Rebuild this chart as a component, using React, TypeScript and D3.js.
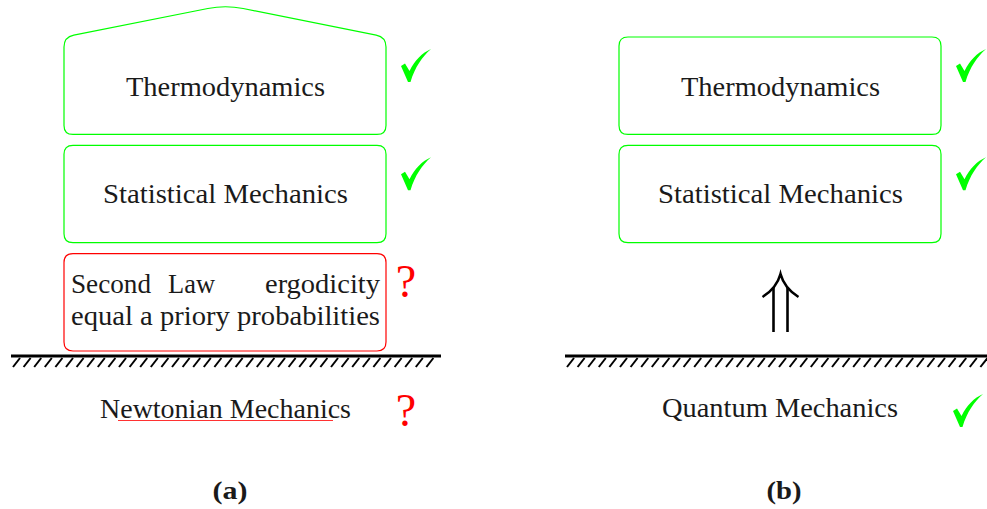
import React from "react";
import * as d3 from "d3";

// layers of the theory, top to bottom, for both panels
const panelCaptions = ["(a)", "(b)"];
const upperLayers = ["Thermodynamics", "Statistical Mechanics"];
const upperStatus = [
  ["ok", "ok"],
  ["ok", "ok"]
];
const assumptionLine1 = ["Second", "Law", "ergodicity"];
const assumptionLine2 = "equal a priory probabilities";
const assumptionStatus = "unknown";
const foundations = ["Newtonian Mechanics", "Quantum Mechanics"];
const foundationStatus = ["unknown", "ok"];

const W = 987;
const H = 509;
const GREEN = "#00ff00";
const RED = "#ff0000";
const FONT = "Liberation Serif";

const panelX = d3.scaleOrdinal<string, number>().domain(panelCaptions).range([64, 619]);
const boxW = 322;
const layerY = d3.scaleBand<number>().domain([0, 1, 2]).range([37, 351]).paddingInner(0.1);

function roundedPoly(pts: [number, number][], radii: number[]) {
  const p = d3.path();
  const n = pts.length;
  for (let i = 0; i < n; i++) {
    const r = radii[i];
    const prev = pts[(i - 1 + n) % n];
    const cur = pts[i];
    const next = pts[(i + 1) % n];
    const d1 = Math.hypot(cur[0] - prev[0], cur[1] - prev[1]);
    const d2 = Math.hypot(next[0] - cur[0], next[1] - cur[1]);
    const a = [cur[0] + ((prev[0] - cur[0]) * r) / d1, cur[1] + ((prev[1] - cur[1]) * r) / d1];
    const b = [cur[0] + ((next[0] - cur[0]) * r) / d2, cur[1] + ((next[1] - cur[1]) * r) / d2];
    if (i === 0) p.moveTo(a[0], a[1]);
    else p.lineTo(a[0], a[1]);
    p.quadraticCurveTo(cur[0], cur[1], b[0], b[1]);
  }
  p.closePath();
  return p.toString();
}

const checkPath = "M0,17 L4,14.5 L8.5,22 C14,11 21,4 30,0 C21,8 14,18 9.5,33 L7,33 Z";

function Check({ x, y }: { x: number; y: number }) {
  return <path d={checkPath} transform={`translate(${x},${y})`} fill={GREEN} />;
}

function Question({ x, y }: { x: number; y: number }) {
  return (
    <text x={x} y={y} style={{ fontFamily: FONT }} fontSize={46} fill={RED} textAnchor="middle">
      ?
    </text>
  );
}

function Ground({ x0, x1 }: { x0: number; x1: number }) {
  const y = 356;
  const hatches = d3.range(x0 + 2, x1 - 6, 10.6);
  const line = d3.line();
  return (
    <g>
      <line x1={x0} x2={x1} y1={y} y2={y} stroke="#000" strokeWidth={3} />
      {hatches.map((hx, i) => (
        <path
          key={i}
          d={line([[hx, y + 11], [hx + 7, y + 2]]) || ""}
          stroke="#000"
          strokeWidth={2}
          fill="none"
        />
      ))}
    </g>
  );
}

function Label({ text, cx, y, len }: { text: string; cx: number; y: number; len?: number }) {
  return (
    <text
      x={cx}
      y={y}
      style={{ fontFamily: FONT }}
      fontSize={28}
      fill="#1a1a1a"
      textAnchor="middle"
      textLength={len}
      lengthAdjust="spacingAndGlyphs"
    >
      {text}
    </text>
  );
}

const labelLens: Record<string, number> = {
  Thermodynamics: 199,
  "Statistical Mechanics": 245,
  "Newtonian Mechanics": 251,
  "Quantum Mechanics": 236
};

export default function App() {
  return (
    <svg
      width={W}
      height={H}
      style={{ position: "absolute", left: 0, top: 0, background: "#fff" }}
    >
      {panelCaptions.map((cap, pi) => {
        const x0 = panelX(cap);
        const x1 = x0 + boxW;
        const cx = (x0 + x1) / 2 + 0.5;
        const checkX = x1 + 15;
        return (
          <g key={cap}>
            {upperLayers.map((name, li) => {
              const y0 = layerY(li)!;
              const y1 = y0 + layerY.bandwidth();
              const roof = pi === 0 && li === 0;
              const pts: [number, number][] = roof
                ? [[x0, y1], [x0, y0], [cx, 5], [x1, y0], [x1, y1]]
                : [[x0, y1], [x0, y0], [x1, y0], [x1, y1]];
              const radii = roof ? [9, 10, 18, 10, 9] : [9, 9, 9, 9];
              return (
                <g key={name}>
                  <path d={roundedPoly(pts, radii)} fill="none" stroke={GREEN} strokeWidth={1.2} />
                  <Label text={name} cx={cx} y={y0 + (li === 0 ? 59 : 58)} len={labelLens[name]} />
                  {upperStatus[pi][li] === "ok" && <Check x={checkX} y={y0 + 12} />}
                </g>
              );
            })}

            {pi === 0 && (
              <g>
                <path
                  d={roundedPoly(
                    [
                      [x0, layerY(2)! + layerY.bandwidth()],
                      [x0, layerY(2)!],
                      [x1, layerY(2)!],
                      [x1, layerY(2)! + layerY.bandwidth()]
                    ],
                    [9, 9, 9, 9]
                  )}
                  fill="none"
                  stroke={RED}
                  strokeWidth={1.2}
                />
                <text y={293} style={{ fontFamily: FONT }} fontSize={28} fill="#1a1a1a">
                  <tspan x={71} textLength={80} lengthAdjust="spacingAndGlyphs">{assumptionLine1[0]}</tspan>
                  <tspan x={168} textLength={47} lengthAdjust="spacingAndGlyphs">{assumptionLine1[1]}</tspan>
                  <tspan x={265} textLength={115} lengthAdjust="spacingAndGlyphs">{assumptionLine1[2]}</tspan>
                </text>
                <text
                  x={71}
                  y={325}
                  style={{ fontFamily: FONT }}
                  fontSize={28}
                  fill="#1a1a1a"
                  textLength={309}
                  lengthAdjust="spacingAndGlyphs"
                >
                  {assumptionLine2}
                </text>
                {assumptionStatus === "unknown" && <Question x={406} y={297} />}
              </g>
            )}

            {pi === 1 && (
              <g fill="none" stroke="#000" strokeWidth={2.6}>
                <line x1={cx - 7} x2={cx - 7} y1={332} y2={287} />
                <line x1={cx + 7} x2={cx + 7} y1={332} y2={287} />
                <path d={`M${cx - 18},297 C${cx - 10},292 ${cx - 3},285 ${cx},274 C${cx + 3},285 ${cx + 10},292 ${cx + 18},297`} />
              </g>
            )}

            <Ground x0={pi === 0 ? 11 : 565} x1={pi === 0 ? 441 : 990} />

            <Label text={foundations[pi]} cx={pi === 0 ? 225.5 : 780} y={pi === 0 ? 418 : 417} len={labelLens[foundations[pi]]} />
            {pi === 0 && <line x1={118} x2={333} y1={420.5} y2={420.5} stroke={RED} strokeWidth={1.2} opacity={0.8} />}
            {foundationStatus[pi] === "unknown" ? (
              <Question x={406} y={426} />
            ) : (
              <Check x={953} y={394} />
            )}

            <text
              x={pi === 0 ? 230 : 784}
              y={499}
              style={{ fontFamily: FONT }}
              fontSize={26}
              fontWeight="bold"
              fill="#1a1a1a"
              textAnchor="middle"
              textLength={35}
              lengthAdjust="spacingAndGlyphs"
            >
              {cap}
            </text>
          </g>
        );
      })}
    </svg>
  );
}
